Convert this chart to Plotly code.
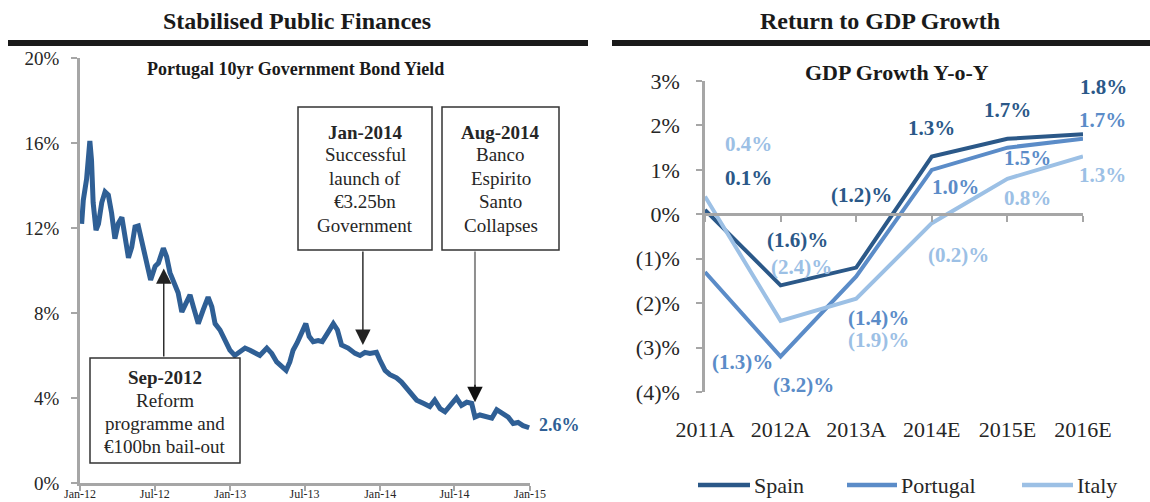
import plotly.graph_objects as go

# ---------------- DATA ----------------
bond_dates = [
    "2012-01-05", "2012-01-09", "2012-01-17", "2012-01-25", "2012-01-29", "2012-02-02", "2012-02-09",
    "2012-02-15", "2012-02-23", "2012-03-02", "2012-03-10", "2012-03-18", "2012-03-26", "2012-04-03",
    "2012-04-12", "2012-04-20", "2012-04-28", "2012-05-06", "2012-05-14", "2012-05-22", "2012-05-30",
    "2012-06-11", "2012-06-21", "2012-07-02", "2012-07-10", "2012-07-22", "2012-07-30", "2012-08-07",
    "2012-08-19", "2012-08-27", "2012-09-05", "2012-09-15", "2012-09-25", "2012-10-03", "2012-10-15",
    "2012-10-27", "2012-11-08", "2012-11-17", "2012-11-25", "2012-12-07", "2012-12-19", "2012-12-31",
    "2013-01-12", "2013-01-25", "2013-02-06", "2013-02-18", "2013-03-02", "2013-03-14", "2013-03-31",
    "2013-04-12", "2013-04-24", "2013-05-06", "2013-05-17", "2013-05-26", "2013-06-03", "2013-06-13",
    "2013-06-24", "2013-07-04", "2013-07-12", "2013-07-22", "2013-08-03", "2013-08-13", "2013-08-26",
    "2013-09-09", "2013-09-19", "2013-09-29", "2013-10-15", "2013-11-01", "2013-11-13", "2013-11-25",
    "2013-12-07", "2013-12-23", "2013-12-31",
    "2014-01-13", "2014-01-25", "2014-02-10", "2014-02-22", "2014-03-07", "2014-03-19", "2014-03-31",
    "2014-04-16", "2014-05-02", "2014-05-14", "2014-05-27", "2014-06-08", "2014-06-20", "2014-07-06",
    "2014-07-18", "2014-07-31", "2014-08-12", "2014-08-20", "2014-09-01", "2014-09-17", "2014-09-30",
    "2014-10-12", "2014-10-24", "2014-11-09", "2014-11-21", "2014-12-03", "2014-12-15", "2014-12-30",
]
bond_yield = [
    12.2, 13.3, 14.3, 16.1, 15.2, 13.2, 11.9, 12.2, 13.2, 13.7, 13.55, 12.7, 11.5, 12.2,
    12.5, 11.4, 10.6, 11.1, 12.05, 12.1, 11.4, 10.5, 9.55, 10.2, 10.35, 11.05, 10.65, 9.9,
    9.4, 8.95, 8.05, 8.5, 8.85, 8.3, 7.5, 8.15, 8.75, 8.3, 7.5, 7.2, 6.7, 6.25,
    6.0, 6.15, 6.35, 6.25, 6.1, 6.0, 6.35, 6.1, 5.7, 5.45, 5.3, 5.7, 6.25, 6.6,
    7.05, 7.5, 6.9, 6.65, 6.7, 6.65, 7.05, 7.5, 7.2, 6.5, 6.35, 6.1, 6.0, 6.15,
    6.1, 6.15, 5.8,
    5.3, 5.1, 4.95, 4.75, 4.45, 4.2, 3.9, 3.75, 3.6, 3.9, 3.5, 3.35, 3.6, 4.0,
    3.65, 3.8, 3.75, 3.1, 3.2, 3.1, 3.05, 3.45, 3.3, 3.1, 2.8, 2.85, 2.7, 2.6,
]
bond_last_label = "2.6%"
bond_ticks = ["2012-01-01", "2012-07-01", "2013-01-01", "2013-07-01", "2014-01-01", "2014-07-01", "2015-01-01"]
bond_tick_text = ["Jan-12", "Jul-12", "Jan-13", "Jul-13", "Jan-14", "Jul-14", "Jan-15"]
bond_y_ticks = [0, 4, 8, 12, 16, 20]

# events: (date of arrow, yield level the arrow points at, box lines)
events = [
    ("2012-07-23", 10.1, ["<b>Sep-2012</b>", "Reform", "programme and", "€100bn bail-out"]),
    ("2013-11-20", 6.5, ["<b>Jan-2014</b>", "Successful", "launch of", "€3.25bn", "Government"]),
    ("2014-08-20", 3.8, ["<b>Aug-2014</b>", "Banco", "Espirito", "Santo", "Collapses"]),
]

years = ["2011A", "2012A", "2013A", "2014E", "2015E", "2016E"]
spain = [0.1, -1.6, -1.2, 1.3, 1.7, 1.8]
portugal = [-1.3, -3.2, -1.4, 1.0, 1.5, 1.7]
italy = [0.4, -2.4, -1.9, -0.2, 0.8, 1.3]
gdp_y_ticks = [-4, -3, -2, -1, 0, 1, 2, 3]

# ---------------- STYLE / LAYOUT ----------------
W, H = 1150, 502
FONT = "Liberation Serif, Times New Roman, serif"
TXT = "#262626"
AXIS = "#a6a6a6"
BOND_COLOR = "#2f5f95"
C_SPAIN, C_PORT, C_ITALY = "#2b5888", "#5b8cc8", "#9cc0e5"


def px(x):
    return x / W


def py(y):
    return 1 - y / H


def pct(v):
    return f"({abs(v):.1f})%" if v < 0 else f"{v:.1f}%"


def pct_tick(v):
    return f"({abs(v)})%" if v < 0 else f"{v}%"


fig = go.Figure()

# left panel line
fig.add_trace(go.Scatter(
    x=bond_dates, y=bond_yield, mode="lines",
    line=dict(color=BOND_COLOR, width=5), xaxis="x", yaxis="y",
    showlegend=False, hoverinfo="skip"))

# right panel lines
series = [("Spain", spain, C_SPAIN), ("Portugal", portugal, C_PORT), ("Italy", italy, C_ITALY)]
for name, vals, col in series:
    fig.add_trace(go.Scatter(
        x=years, y=vals, mode="lines", name=name,
        line=dict(color=col, width=4), xaxis="x2", yaxis="y2",
        showlegend=False, hoverinfo="skip"))

# helper trace so the zero-line axis (x3) gets drawn
fig.add_trace(go.Scatter(x=years, y=spain, mode="lines", line=dict(width=0),
                         opacity=0, xaxis="x3", yaxis="y2", showlegend=False, hoverinfo="skip"))

# domains
y1_dom = [py(483), py(58)]
y2_dom = [py(392), py(81)]
zero_pos = y2_dom[0] + (y2_dom[1] - y2_dom[0]) * (0 - (-4)) / 7

axis_common = dict(showgrid=False, zeroline=False, automargin=False)

fig.update_layout(
    width=W, height=H, autosize=False,
    margin=dict(l=0, r=0, t=0, b=0, pad=0, autoexpand=False),
    paper_bgcolor="white", plot_bgcolor="white",
    font=dict(family=FONT, color=TXT),
    xaxis=dict(
        domain=[px(80), px(530)], anchor="y", type="date",
        range=["2012-01-01", "2015-01-01"],
        tickvals=bond_ticks, ticktext=bond_tick_text,
        showline=True, linecolor=AXIS, linewidth=2.5,
        ticks="outside", ticklen=5, tickwidth=2, tickcolor=AXIS,
        tickfont=dict(size=12, color=TXT), ticklabelstandoff=-7, **axis_common),
    yaxis=dict(
        domain=y1_dom, anchor="x", range=[0, 20],
        tickvals=bond_y_ticks, ticktext=[f"{v}%" for v in bond_y_ticks],
        showline=True, linecolor=AXIS, linewidth=2.5,
        ticks="outside", ticklen=6, tickwidth=2, tickcolor=AXIS,
        tickfont=dict(size=19, color=TXT), ticklabelstandoff=8, **axis_common),
    xaxis2=dict(
        domain=[px(705), px(1083)], anchor="y2", type="category",
        range=[0, 5], showline=False,
        ticks="", tickfont=dict(size=22, color=TXT), ticklabelstandoff=22, **axis_common),
    xaxis3=dict(
        domain=[px(705), px(1083)], anchor="free", position=zero_pos, overlaying="x2",
        type="category", range=[0, 5],
        showline=True, linecolor=AXIS, linewidth=2.5,
        ticks="outside", ticklen=6, tickwidth=2, tickcolor=AXIS, showticklabels=False, **axis_common),
    yaxis2=dict(
        domain=y2_dom, anchor="x2", range=[-4, 3],
        tickvals=gdp_y_ticks, ticktext=[pct_tick(v) for v in gdp_y_ticks],
        showline=True, linecolor=AXIS, linewidth=2.5,
        ticks="outside", ticklen=6, tickwidth=2, tickcolor=AXIS,
        tickfont=dict(size=22, color=TXT), ticklabelstandoff=12, **axis_common),
)

shapes = []
ann = []

# section headers and rules
shapes.append(dict(type="rect", xref="paper", yref="paper", x0=px(8), x1=px(588),
                   y0=py(46), y1=py(40), fillcolor="#1a1a1a", line=dict(width=0)))
shapes.append(dict(type="rect", xref="paper", yref="paper", x0=px(612), x1=px(1150),
                   y0=py(46), y1=py(40), fillcolor="#1a1a1a", line=dict(width=0)))
ann.append(dict(text="<b>Stabilised Public Finances</b>", x=px(297), y=py(21), xref="paper", yref="paper",
                showarrow=False, font=dict(size=24, color="#1a1a1a"), xanchor="center", yanchor="middle"))
ann.append(dict(text="<b>Return to GDP Growth</b>", x=px(880), y=py(21), xref="paper", yref="paper",
                showarrow=False, font=dict(size=24, color="#1a1a1a"), xanchor="center", yanchor="middle"))

# chart titles
ann.append(dict(text="<b>Portugal 10yr Government Bond Yield</b>", x=px(295), y=py(69), xref="paper",
                yref="paper", showarrow=False, font=dict(size=18, color="#1a1a1a"),
                xanchor="center", yanchor="middle"))
ann.append(dict(text="<b>GDP Growth Y-o-Y</b>", x=px(897), y=py(73), xref="paper",
                yref="paper", showarrow=False, font=dict(size=22, color="#1a1a1a"),
                xanchor="center", yanchor="middle"))

# last value label
ann.append(dict(text=f"<b>{bond_last_label}</b>", x=bond_dates[-1], y=bond_yield[-1], xref="x", yref="y",
                xshift=8, yshift=3, showarrow=False, xanchor="left", yanchor="middle",
                font=dict(size=18, color=BOND_COLOR)))

# event boxes (pixel geometry) and arrows
boxes = [
    dict(x0=90, x1=240, y0=358, y1=463, line_y=[377, 400, 423, 446], tail=358, arrow_col="#222222"),
    dict(x0=298, x1=432, y0=107, y1=250, line_y=[132, 155, 178, 201, 225], tail=250, arrow_col="#222222"),
    dict(x0=442, x1=559, y0=107, y1=250, line_y=[132, 155, 178, 201, 225], tail=250, arrow_col="#8f8f8f"),
]
for (d, lvl, lines), b in zip(events, boxes):
    shapes.append(dict(type="rect", xref="paper", yref="paper", x0=px(b["x0"]), x1=px(b["x1"]),
                       y0=py(b["y1"]), y1=py(b["y0"]), fillcolor="white",
                       line=dict(color="#333333", width=1.5), layer="above"))
    cx = (b["x0"] + b["x1"]) / 2
    for t, ly in zip(lines, b["line_y"]):
        ann.append(dict(text=t, x=px(cx), y=py(ly), xref="paper", yref="paper", showarrow=False,
                        font=dict(size=19, color=TXT), xanchor="center", yanchor="middle"))
    tail_val = (483 - b["tail"]) / 21.25
    if b["arrow_col"] != "#222222":
        ann.append(dict(text="", x=d, y=lvl + 0.7, xref="x", yref="y", axref="x", ayref="y",
                        ax=d, ay=tail_val, showarrow=True, arrowhead=0, arrowwidth=2,
                        arrowcolor=b["arrow_col"], standoff=0))
        ann.append(dict(text="", x=d, y=lvl, xref="x", yref="y", axref="x", ayref="y",
                        ax=d, ay=lvl + 0.9, showarrow=True, arrowhead=2, arrowsize=2.2, arrowwidth=1.4,
                        arrowcolor="#111111", standoff=0))
    else:
        ann.append(dict(text="", x=d, y=lvl, xref="x", yref="y", axref="x", ayref="y",
                        ax=d, ay=tail_val, showarrow=True, arrowhead=2, arrowsize=2.2, arrowwidth=1.4,
                        arrowcolor=b["arrow_col"], standoff=0))

# GDP data labels (pixel offsets from each point)
label_offsets = {
    "Spain": [(43, 32), (17, 45), (5, 73), (0, 29), (0, 29), (20, 47)],
    "Portugal": [(37, -90), (23, -29), (22, -42), (24, -17), (20, -10), (19, 19)],
    "Italy": [(43, 53), (21, 54), (22, -41), (27, -32), (20, -19), (19, -18)],
}
for name, vals, col in series:
    for cat, v, (dx, dy) in zip(years, vals, label_offsets[name]):
        ann.append(dict(text=f"<b>{pct(v)}</b>", x=cat, y=v, xref="x2", yref="y2",
                        xshift=dx, yshift=dy, showarrow=False, xanchor="center", yanchor="middle",
                        font=dict(size=21, color=col)))

# custom legend
legend_pos = [(698, 750), (847, 897), (1022, 1073)]
for (name, vals, col), (lx0, lx1) in zip(series, legend_pos):
    shapes.append(dict(type="line", xref="paper", yref="paper", x0=px(lx0), x1=px(lx1),
                       y0=py(485), y1=py(485), line=dict(color=col, width=4.5)))
    ann.append(dict(text=name, x=px(lx1 + 2), y=py(485), xref="paper", yref="paper", showarrow=False,
                    xanchor="left", yanchor="middle", font=dict(size=22, color=TXT)))

fig.update_layout(shapes=shapes, annotations=ann)

fig.write_html("out.html", config={"displayModeBar": False},
               post_script="document.body.style.margin='0';document.body.style.overflow='hidden';")
